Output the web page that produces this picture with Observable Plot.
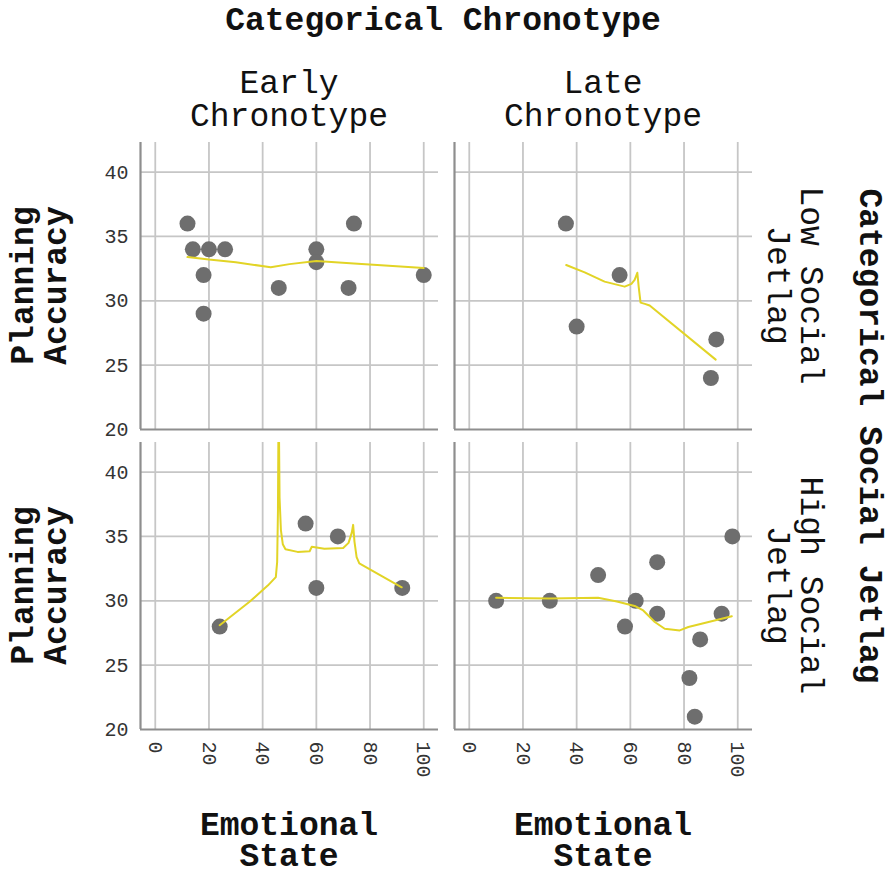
<!DOCTYPE html>
<html><head><meta charset="utf-8">
<script src="https://cdn.jsdelivr.net/npm/d3@7"></script>
<script src="https://cdn.jsdelivr.net/npm/@observablehq/plot@0.6"></script>
<style>html,body{margin:0;padding:0;background:#fff} svg{display:block}</style>
</head><body><div id="chart"></div>
<script>
const chronotypes = ["Early Chronotype", "Late Chronotype"];
const jetlags = ["Low Social Jetlag", "High Social Jetlag"];
const xTicks = [0, 20, 40, 60, 80, 100];
const yTicks = [20, 25, 30, 35, 40];

// observed points per panel
const earlyLowX = [12, 14, 20, 18, 18, 26, 46, 60, 60, 72, 74, 100];
const earlyLowY = [36, 34, 34, 32, 29, 34, 31, 34, 33, 31, 36, 32];
const lateLowX = [36, 40, 56, 92, 90];
const lateLowY = [36, 28, 32, 27, 24];
const earlyHighX = [24, 56, 68, 60, 92];
const earlyHighY = [28, 36, 35, 31, 31];
const lateHighX = [10, 30, 48, 58, 62, 70, 70, 82, 86, 84, 94, 98];
const lateHighY = [30, 30, 32, 28, 30, 33, 29, 24, 27, 21, 29, 35];

// fitted (smoothed) lines
const earlyLowFitX = [12, 20, 30, 43, 50, 60, 74, 100];
const earlyLowFitY = [33.4, 33.2, 33.0, 32.6, 32.85, 33.1, 32.9, 32.55];
const lateLowFitX = [36.1, 43, 50.4, 57.9, 60.4, 61.6, 62.6, 63.1, 63.8, 65.4, 67.2, 91.8];
const lateLowFitY = [32.78, 32.21, 31.49, 31.1, 31.31, 31.62, 32.18, 31.1, 29.86, 29.76, 29.63, 25.43];
const earlyHighFitX = [24, 35, 42, 44.9, 45.4, 45.7, 45.95, 46.3, 46.8, 47.5, 48.5, 53, 57.5, 58.3, 63, 70, 72, 73.2, 73.7, 74.2, 75, 76, 91.8];
const earlyHighFitY = [28.1, 29.9, 31.2, 31.84, 33, 37, 46, 38, 35.5, 34.4, 34.0, 33.8, 33.85, 34.2, 34.05, 34.1, 34.5, 35.3, 35.9, 34.6, 33.4, 32.9, 31.05];
const lateHighFitX = [10, 30, 48, 55, 61.6, 64.8, 69.1, 72.8, 78.4, 81.6, 97.8];
const lateHighFitY = [30.24, 30.17, 30.24, 29.95, 29.6, 29.25, 28.35, 27.83, 27.7, 27.96, 28.8];

function rows(c, j, xs, ys) { return xs.map((x, i) => ({chrono: c, jet: j, x, y: ys[i]})); }
const points = [
  ...rows(chronotypes[0], jetlags[0], earlyLowX, earlyLowY),
  ...rows(chronotypes[1], jetlags[0], lateLowX, lateLowY),
  ...rows(chronotypes[0], jetlags[1], earlyHighX, earlyHighY),
  ...rows(chronotypes[1], jetlags[1], lateHighX, lateHighY)
];
const fits = [
  ...rows(chronotypes[0], jetlags[0], earlyLowFitX, earlyLowFitY),
  ...rows(chronotypes[1], jetlags[0], lateLowFitX, lateLowFitY),
  ...rows(chronotypes[0], jetlags[1], earlyHighFitX, earlyHighFitY),
  ...rows(chronotypes[1], jetlags[1], lateHighFitX, lateHighFitY)
];

const xDomain = [-5.5, 105.5];
const yDomain = [20, 42.3];
const FONT = "'Liberation Mono', 'Courier New', monospace";

const plot = Plot.plot({
  width: 886, height: 874,
  marginLeft: 140, marginRight: 134, marginTop: 142, marginBottom: 144,
  style: {fontFamily: FONT, background: "#fff", overflow: "visible"},
  fx: {domain: chronotypes, paddingInner: 0.051, paddingOuter: 0, axis: null},
  fy: {domain: jetlags, paddingInner: 0.043, paddingOuter: 0, axis: null},
  x: {domain: xDomain},
  y: {domain: yDomain},
  marks: [
    Plot.gridX(xTicks, {stroke: "#c6c6c6", strokeOpacity: 1, strokeWidth: 1.8}),
    Plot.gridY(yTicks.slice(1), {stroke: "#c6c6c6", strokeOpacity: 1, strokeWidth: 1.8}),
    Plot.ruleY([yDomain[0]], {stroke: "#8e8e8e", strokeWidth: 2.2}),
    Plot.ruleX([xDomain[0]], {stroke: "#8e8e8e", strokeWidth: 2.2}),
    Plot.axisY({ticks: yTicks, tickSize: 0, tickPadding: 12, fontSize: 20, fill: "#333", label: null}),
    Plot.axisX({ticks: xTicks, tickSize: 0, tickPadding: 12, tickRotate: 90, fontSize: 20, fill: "#333", label: null}),
    Plot.dot(points, {x: "x", y: "y", fx: "chrono", fy: "jet", r: 8, fill: "#6e6e6e", stroke: "none"}),
    Plot.line(fits, {x: "x", y: "y", fx: "chrono", fy: "jet", stroke: "#e2d426", strokeWidth: 2, clip: true})
  ]
});
document.getElementById("chart").appendChild(plot);

const svg = d3.select(plot);
const fxS = plot.scale("fx"), fyS = plot.scale("fy");
const g = svg.append("g").attr("font-family", FONT).attr("fill", "#111");

function multi(x, y, lines, opts) {
  const t = g.append("text")
    .attr("text-anchor", "middle")
    .attr("font-size", opts.size)
    .attr("font-weight", opts.bold ? "bold" : "normal")
    .attr("transform", `translate(${x},${y}) rotate(${opts.rotate || 0})`);
  lines.forEach((l, i) => t.append("tspan").attr("x", 0).attr("y", i * opts.lh).text(l));
}

// top title
multi(443, 30, ["Categorical Chronotype"], {size: 33, bold: true, lh: 0});
// column labels
const colLines = [["Early", "Chronotype"], ["Late", "Chronotype"]];
chronotypes.forEach((c, i) => {
  const cx = fxS.apply(c) + fxS.bandwidth / 2;
  multi(cx, 93, colLines[i], {size: 33, lh: 33});
  multi(cx, 835, ["Emotional", "State"], {size: 33, bold: true, lh: 31});
});
// row labels
const rowLines = [["Low Social", "Jetlag"], ["High Social", "Jetlag"]];
jetlags.forEach((j, i) => {
  const cy = fyS.apply(j) + fyS.bandwidth / 2;
  multi(801, cy, rowLines[i], {size: 33, lh: 33, rotate: 90});
  multi(33, cy, ["Planning", "Accuracy"], {size: 33, bold: true, lh: 33, rotate: -90});
});
// right title
const fyMid = (fyS.range[0] + fyS.range[1]) / 2;
multi(860, fyMid, ["Categorical Social Jetlag"], {size: 33, bold: true, lh: 0, rotate: 90});
</script>
</body></html>
